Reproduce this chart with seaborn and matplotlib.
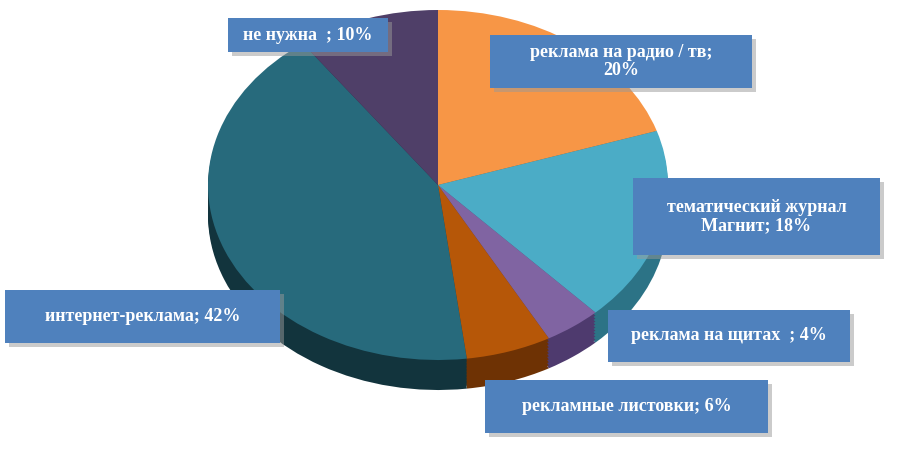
import matplotlib
matplotlib.use("Agg")
import matplotlib.pyplot as plt
from matplotlib.patches import Rectangle
import seaborn as sns

sns.set_style("white")

# -----------------------
# DATA
# -----------------------
categories = ["реклама на радио / тв", "тематический журнал Магнит", "реклама на щитах ",
              "рекламные листовки", "интернет-реклама", "не нужна "]
shares = [20, 18, 4, 6, 42, 10]
labels = ["реклама на радио / тв;\n20%", "тематический журнал\nМагнит; 18%",
          "реклама на щитах  ; 4%", "рекламные листовки; 6%",
          "интернет-реклама; 42%", "не нужна  ; 10%"]
colors = ["#F79646", "#4BACC6", "#8064A2", "#B65708", "#276A7C", "#4F3F68"]
side_colors = ["#A35A1E", "#2C7386", "#4E3A6E", "#6E3204", "#12343D", "#2E2440"]

# label boxes in pixels: x, y, w, h
boxes = [(490, 35, 262, 53), (633, 178, 247, 77), (608, 310, 242, 52),
         (485, 380, 283, 53), (5, 290, 275, 53), (228, 18, 160, 34)]

W, H = 923, 450
fig = plt.figure(figsize=(W / 100, H / 100), dpi=100)

def px_axes(x0, y0, w, h):
    return fig.add_axes([x0 / W, 1 - (y0 + h) / H, w / W, h / H])

# 3D side (depth)
for d in range(30, 0, -3):
    ax_s = px_axes(208, 10 + d, 460, 350)
    ax_s.pie(shares, colors=side_colors, startangle=90, counterclock=False,
             wedgeprops=dict(linewidth=0))
    ax_s.set_aspect("auto")
    ax_s.set_xlim(-1, 1); ax_s.set_ylim(-1, 1)
    ax_s.axis("off")

# top face
ax = px_axes(208, 10, 460, 350)
ax.pie(shares, colors=colors, startangle=90, counterclock=False,
       wedgeprops=dict(linewidth=0))
ax.set_aspect("auto")
ax.set_xlim(-1, 1); ax.set_ylim(-1, 1)
ax.axis("off")

# labels overlay
ov = fig.add_axes([0, 0, 1, 1])
ov.set_xlim(0, W); ov.set_ylim(H, 0)
ov.axis("off")
ov.patch.set_alpha(0)
for (x, y, w, h), lab in zip(boxes, labels):
    ov.add_patch(Rectangle((x + 4, y + 4), w, h, color="#999999", alpha=0.5, lw=0))
    ov.add_patch(Rectangle((x, y), w, h, color="#4F81BD", lw=0))
    ov.text(x + w / 2, y + h / 2, lab, ha="center", va="center", color="white",
            fontsize=13, fontweight="bold", family="Liberation Serif", linespacing=1.1)

fig.savefig("out.png", dpi=100)
